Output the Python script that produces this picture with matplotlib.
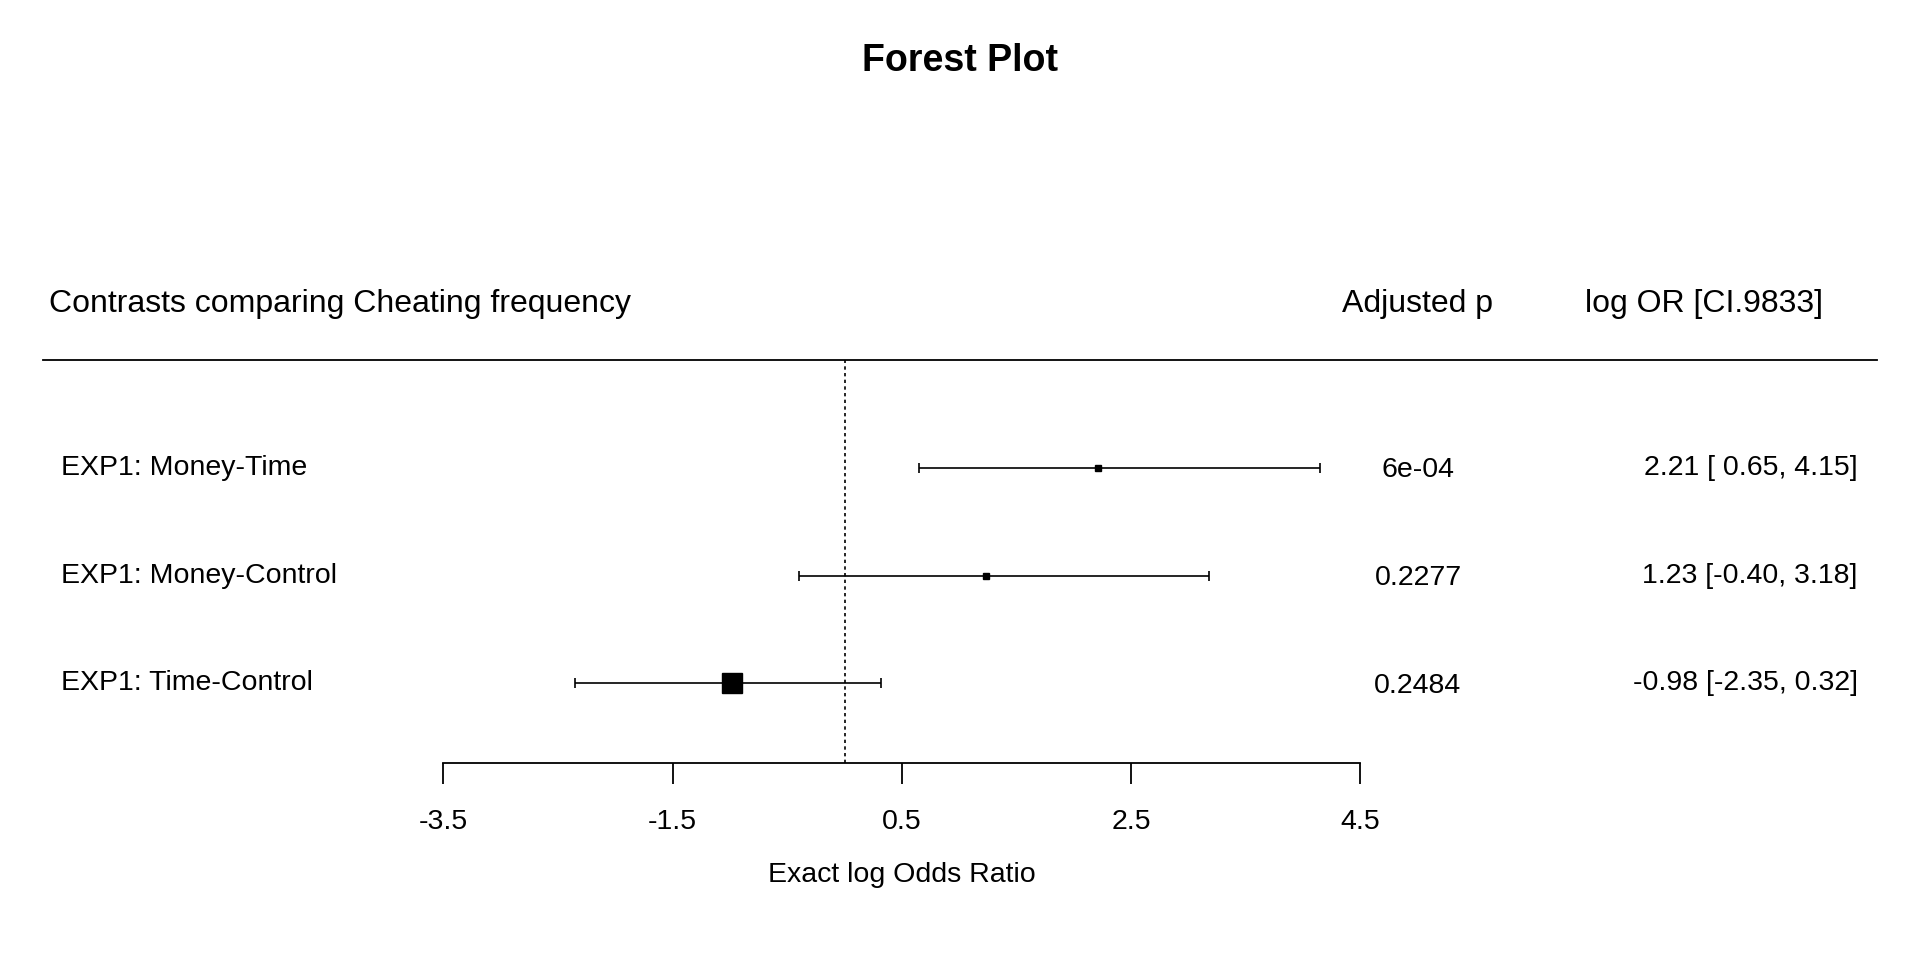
import matplotlib.pyplot as plt

plt.rcParams['font.family'] = ['Liberation Sans', 'DejaVu Sans']

labels = ['EXP1: Money-Time', 'EXP1: Money-Control', 'EXP1: Time-Control']
est = [2.21, 1.23, -0.98]
lo = [0.65, -0.40, -2.35]
hi = [4.15, 3.18, 0.32]
pvals = ['6e-04', '0.2277', '0.2484']
ci_text = ['2.21 [ 0.65, 4.15]', '1.23 [-0.40, 3.18]', '-0.98 [-2.35, 0.32]']
box_size = [4.5, 4.5, 14]
xticks = [-3.5, -1.5, 0.5, 2.5, 4.5]

W, H = 1568, 784
fig = plt.figure(figsize=(19.2, 9.6), dpi=100)

# background axes in reference pixel units for text layout
bg = fig.add_axes([0, 0, 1, 1])
bg.set_xlim(0, W)
bg.set_ylim(H, 0)
bg.axis('off')

fs = 20.5
fh = 23
bg.text(784, 50, 'Forest Plot', ha='center', va='center', fontsize=27, fontweight='bold')
bg.text(40, 248, 'Contrasts comparing Cheating frequency', ha='left', va='center', fontsize=fh)
bg.text(1158, 248, 'Adjusted p', ha='center', va='center', fontsize=fh)
bg.text(1392, 248, 'log OR [CI.9833]', ha='center', va='center', fontsize=fh)
bg.plot([35, 1533], [294, 294], color='black', lw=1.3)
for i, lab in enumerate(labels):
    y = 382 + 88 * i
    bg.text(50, y, lab, ha='left', va='center', fontsize=fs)
    bg.text(1158, y + 2, pvals[i], ha='center', va='center', fontsize=fs)
    bg.text(1517, y, ci_text[i], ha='right', va='center', fontsize=fs)

# plot axes
left, right = 362 / W, 1111 / W
top, bottom = 294 / H, 623 / H
ax = fig.add_axes([left, 1 - bottom, right - left, bottom - top])
ax.patch.set_alpha(0)
ax.set_xlim(-3.5, 4.5)
ax.set_ylim((623 - 294) / 88, 0)
for s in ['top', 'left', 'right']:
    ax.spines[s].set_visible(False)
ax.spines['bottom'].set_linewidth(1.3)
ax.set_yticks([])
ax.set_xticks(xticks)
ax.set_xticklabels([f'{t:g}' for t in xticks], fontsize=fs)
ax.tick_params(axis='x', length=15, width=1.3, pad=18)
ax.set_xlabel('Exact log Odds Ratio', fontsize=fs, labelpad=20)
ax.axvline(0, color='black', ls=(0, (2, 2)), lw=1.2)

for i in range(len(est)):
    y = (382 + 88 * i - 294) / 88
    ax.errorbar(est[i], y, xerr=[[est[i] - lo[i]], [hi[i] - est[i]]], fmt='none',
                ecolor='black', elinewidth=1.2, capsize=3.5, capthick=1.2)
    ax.plot(est[i], y, marker='s', color='black', markersize=box_size[i], ls='none')

fig.savefig('out.png', dpi=100)
